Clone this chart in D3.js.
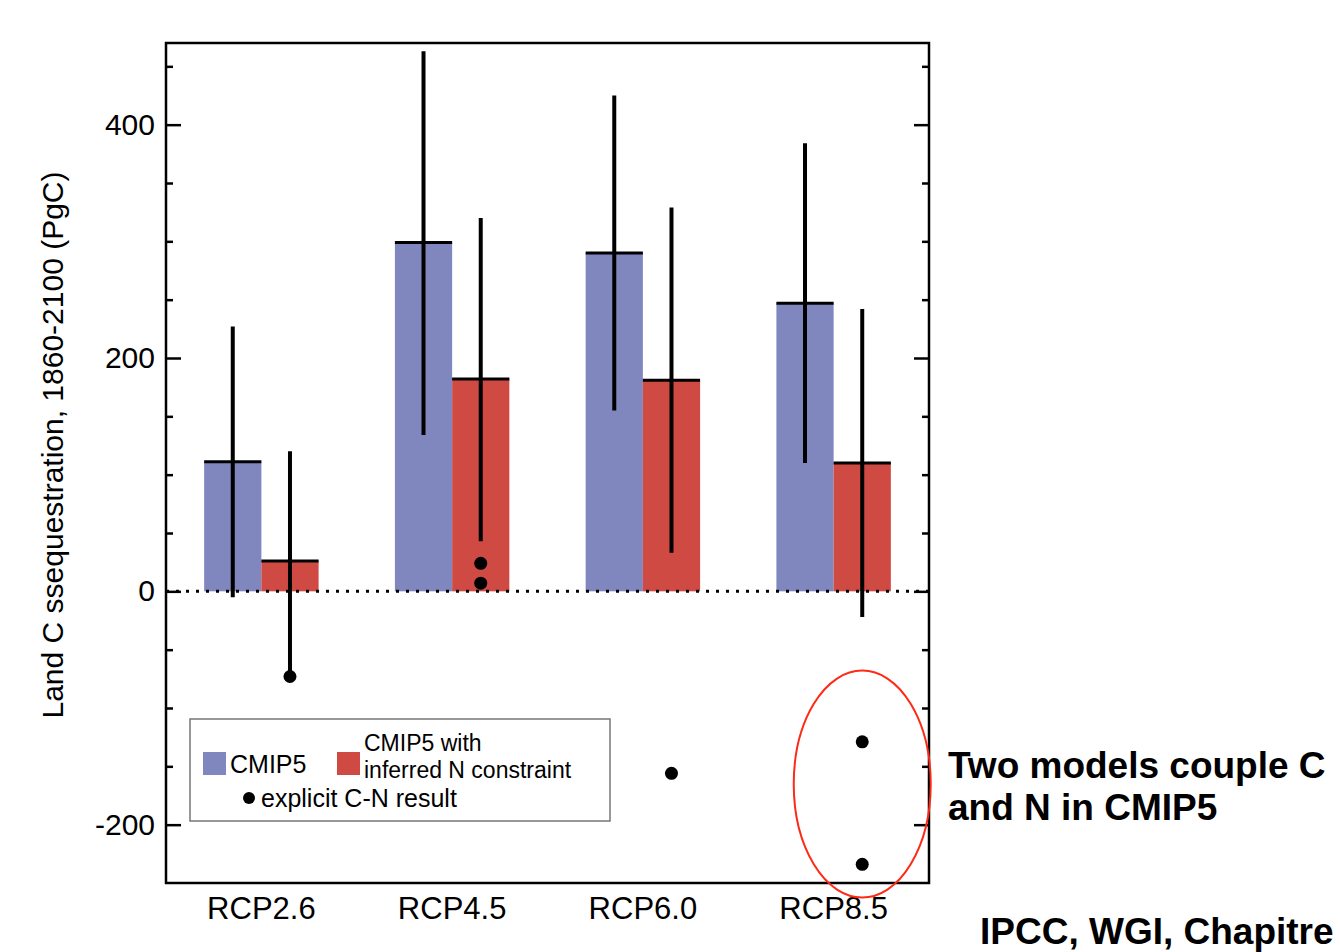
<!DOCTYPE html>
<html>
<head>
<meta charset="utf-8">
<script src="https://cdn.jsdelivr.net/npm/d3@7"></script>
<style>
  html, body { margin: 0; padding: 0; background: #ffffff; }
  svg { display: block; font-family: "Liberation Sans", Arial, Helvetica, sans-serif; }
</style>
</head>
<body>
<svg id="chart" width="1340" height="952"></svg>
<script>
// ---------------- data ----------------
const categories = ["RCP2.6", "RCP4.5", "RCP6.0", "RCP8.5"];
const seriesKeys = ["cmip5", "nConstraint"];
const seriesLabels = ["CMIP5", "CMIP5 with\ninferred N constraint"];
const cmip5 = [111, 299, 290, 247];
const cmip5Low = [-5, 134, 155, 110];
const cmip5High = [227, 463, 425, 384];
const nConstraint = [26, 182, 181, 110];
const nConstraintLow = [-73, 43, 33, -22];
const nConstraintHigh = [120, 320, 329, 242];
const explicitCat = ["RCP2.6", "RCP4.5", "RCP4.5", "RCP6.0", "RCP8.5", "RCP8.5"];
const explicitVal = [-73, 24, 7, -156, -129, -234];
const yDomain = [-250, 470];
const yLabelTicks = [-200, 0, 200, 400];
const yTitle = "Land C ssequestration, 1860-2100 (PgC)";
const annotation1 = ["Two models couple C", "and N in CMIP5"];
const sourceText = "IPCC, WGI, Chapitre";
const legendDotLabel = "explicit C-N result";

// ---------------- layout ----------------
const svg = d3.select("#chart");
const plot = { left: 166, right: 929, top: 43, bottom: 883 };
const colors = { cmip5: "#8087bf", nConstraint: "#d04a44" };
const FONT = "'Liberation Sans', Arial, Helvetica, sans-serif";

const x = d3.scaleBand().domain(categories).range([plot.left, plot.right]).padding(0);
const bw = x.bandwidth();
const xs = d3.scaleBand().domain(seriesKeys).range([0.2 * bw, 0.8 * bw]).padding(0);
const y = d3.scaleLinear().domain(yDomain).range([plot.bottom, plot.top]);

const rows = categories.map((c, i) => ({
  cat: c,
  vals: [
    { key: "cmip5", v: cmip5[i], lo: cmip5Low[i], hi: cmip5High[i] },
    { key: "nConstraint", v: nConstraint[i], lo: nConstraintLow[i], hi: nConstraintHigh[i] }
  ]
}));

// bars
const g = svg.append("g");
const groups = g.selectAll("g.grp").data(rows).join("g")
  .attr("class", "grp")
  .attr("transform", d => `translate(${x(d.cat)},0)`);

groups.selectAll("rect").data(d => d.vals).join("rect")
  .attr("x", d => xs(d.key))
  .attr("width", xs.bandwidth())
  .attr("y", d => y(Math.max(0, d.v)))
  .attr("height", d => Math.abs(y(d.v) - y(0)))
  .attr("fill", d => colors[d.key]);

// bar top lines
groups.selectAll("line.top").data(d => d.vals).join("line")
  .attr("class", "top")
  .attr("x1", d => xs(d.key))
  .attr("x2", d => xs(d.key) + xs.bandwidth())
  .attr("y1", d => y(d.v))
  .attr("y2", d => y(d.v))
  .attr("stroke", "#000")
  .attr("stroke-width", 3);

// zero dotted line
svg.append("line")
  .attr("x1", plot.left).attr("x2", plot.right)
  .attr("y1", y(0)).attr("y2", y(0))
  .attr("stroke", "#000").attr("stroke-width", 3)
  .attr("stroke-dasharray", "3,7");

// error bars
groups.selectAll("line.err").data(d => d.vals).join("line")
  .attr("class", "err")
  .attr("x1", d => xs(d.key) + xs.bandwidth() / 2)
  .attr("x2", d => xs(d.key) + xs.bandwidth() / 2)
  .attr("y1", d => y(d.lo))
  .attr("y2", d => y(d.hi))
  .attr("stroke", "#000")
  .attr("stroke-width", 4);

// explicit C-N points (placed at the N-constraint bar position)
svg.selectAll("circle.pt").data(explicitCat.map((c, i) => ({ cat: c, v: explicitVal[i] })))
  .join("circle")
  .attr("class", "pt")
  .attr("cx", d => x(d.cat) + xs("nConstraint") + xs.bandwidth() / 2)
  .attr("cy", d => y(d.v))
  .attr("r", 6.5)
  .attr("fill", "#000");

// frame
svg.append("rect")
  .attr("x", plot.left).attr("y", plot.top)
  .attr("width", plot.right - plot.left).attr("height", plot.bottom - plot.top)
  .attr("fill", "none").attr("stroke", "#000").attr("stroke-width", 2.5);

// y axes (ticks inward, both sides)
const minorTicks = d3.range(-200, 470, 50).filter(v => !yLabelTicks.includes(v));
const leftMajor = d3.axisLeft(y).tickValues(yLabelTicks).tickSize(-15).tickPadding(11).tickFormat(d => String(d));
const leftMinor = d3.axisLeft(y).tickValues(minorTicks).tickSize(-7).tickFormat("");
const rightMajor = d3.axisRight(y).tickValues(yLabelTicks).tickSize(-15).tickFormat("");
const rightMinor = d3.axisRight(y).tickValues(minorTicks).tickSize(-7).tickFormat("");

function styleAxis(sel) {
  sel.select(".domain").remove();
  sel.selectAll(".tick line").attr("stroke", "#000").attr("stroke-width", 2.5);
  sel.selectAll(".tick text").attr("fill", "#000").attr("font-size", 30).attr("font-family", FONT);
}
svg.append("g").attr("transform", `translate(${plot.left},0)`).call(leftMajor).call(styleAxis);
svg.append("g").attr("transform", `translate(${plot.left},0)`).call(leftMinor).call(styleAxis);
svg.append("g").attr("transform", `translate(${plot.right},0)`).call(rightMajor).call(styleAxis);
svg.append("g").attr("transform", `translate(${plot.right},0)`).call(rightMinor).call(styleAxis);

// x axis labels
const xAxis = d3.axisBottom(x).tickSize(0).tickPadding(14);
svg.append("g").attr("transform", `translate(0,${plot.bottom})`).call(xAxis)
  .call(sel => {
    sel.select(".domain").remove();
    sel.selectAll(".tick text").attr("fill", "#000").attr("font-size", 31).attr("font-family", FONT);
  });

// y title
svg.append("text")
  .attr("transform", `translate(63,445) rotate(-90)`)
  .attr("text-anchor", "middle")
  .attr("font-size", 30)
  .attr("fill", "#000")
  .text(yTitle);

// legend
const lg = svg.append("g");
lg.append("rect").attr("x", 190).attr("y", 719).attr("width", 420).attr("height", 102)
  .attr("fill", "#fff").attr("stroke", "#777").attr("stroke-width", 1.5);
lg.append("rect").attr("x", 203).attr("y", 752).attr("width", 23).attr("height", 23).attr("fill", colors.cmip5);
lg.append("text").attr("x", 230).attr("y", 773).attr("font-size", 25).attr("fill", "#000").text(seriesLabels[0]);
lg.append("rect").attr("x", 337).attr("y", 752).attr("width", 23).attr("height", 23).attr("fill", colors.nConstraint);
const l2 = seriesLabels[1].split("\n");
lg.append("text").attr("x", 364).attr("y", 751).attr("font-size", 23).attr("fill", "#000").text(l2[0]);
lg.append("text").attr("x", 364).attr("y", 778).attr("font-size", 23).attr("fill", "#000").text(l2[1]);
lg.append("circle").attr("cx", 249).attr("cy", 798).attr("r", 6).attr("fill", "#000");
lg.append("text").attr("x", 261).attr("y", 807).attr("font-size", 25).attr("fill", "#000").text(legendDotLabel);

// red ellipse highlight around the RCP8.5 explicit points
const hiCat = "RCP8.5";
const hiVals = explicitVal.filter((v, i) => explicitCat[i] === hiCat);
svg.append("ellipse")
  .attr("cx", x(hiCat) + xs("nConstraint") + xs.bandwidth() / 2)
  .attr("cy", (y(d3.max(hiVals)) + y(d3.min(hiVals))) / 2 - 19)
  .attr("rx", 68.5).attr("ry", 113.5)
  .attr("fill", "none").attr("stroke", "#ff2a16").attr("stroke-width", 2);

// annotations
svg.append("text").attr("x", 948).attr("y", 778).attr("font-size", 37).attr("font-weight", "bold")
  .attr("fill", "#000").text(annotation1[0]);
svg.append("text").attr("x", 948).attr("y", 820).attr("font-size", 37).attr("font-weight", "bold")
  .attr("fill", "#000").text(annotation1[1]);
svg.append("text").attr("x", 980).attr("y", 944).attr("font-size", 37).attr("font-weight", "bold")
  .attr("fill", "#000").text(sourceText);
</script>
</body>
</html>
